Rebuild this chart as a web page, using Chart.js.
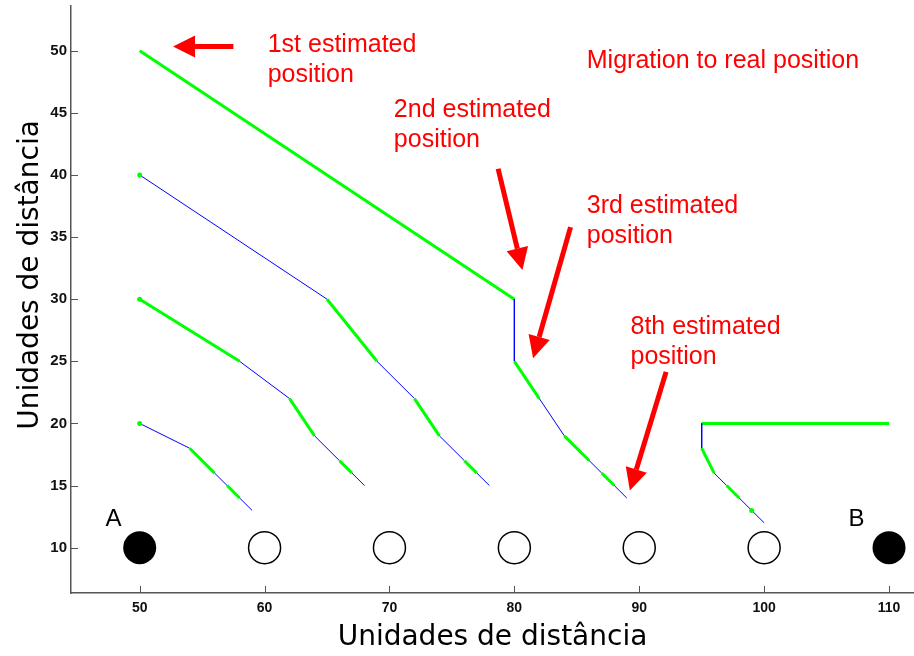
<!DOCTYPE html>
<html>
<head>
<meta charset="utf-8">
<script src="https://cdn.jsdelivr.net/npm/chart.js@4"></script>
<style>
  html, body { margin: 0; padding: 0; background: #fff; }
  #wrap { width: 914px; height: 656px; }
</style>
</head>
<body>
<div id="wrap"><canvas id="migChart" width="914" height="656"></canvas></div>
<script>
// ticks
const xTicks = [50, 60, 70, 80, 90, 100, 110];
const yTicks = [10, 15, 20, 25, 30, 35, 40, 45, 50];

// estimated paths (repeated point = estimate that did not move)
const path1 = [[50,50],[80,30],[80,25],[82,22],[84,19],[86,17],[87,16],[88,15],[89,14]];
const path2 = [[50,40],[50,40],[65,30],[69,25],[72,22],[74,19],[76,17],[77,16],[78,15]];
const path3 = [[50,30],[58,25],[62,22],[64,19],[66,17],[67,16],[68,15]];
const path4 = [[50,20],[50,20],[54,18],[56,16],[57,15],[58,14],[59,13]];
const path5 = [[110,20],[95,20],[95,18],[96,16],[97,15],[98,14],[99,13],[99,13],[100,12]];
const stillDots = [[50,40],[50,30],[50,20],[99,13]];

// nodes on the ground line
const anchorNodes = [[50,10],[110,10]];
const anchorNames = ['A', 'B'];
const anchorLabelPos = [[47.9,12.3],[107.4,12.3]];
const relayNodes = [[60,10],[70,10],[80,10],[90,10],[100,10]];

// red notes (data coords of first baseline)
const noteTexts = [
    ['1st estimated', 'position'],
    ['Migration to real position'],
    ['2nd estimated', 'position'],
    ['3rd estimated', 'position'],
    ['8th estimated', 'position']
];
const noteAt = [[60.25,49.9],[85.8,48.6],[70.35,44.7],[85.8,36.9],[89.3,27.2]];
// arrows: [tailX, tailY, tipX, tipY]
const arrows = [
    [57.5,50.33,52.67,50.33],
    [78.7,40.5,80.65,32.35],
    [84.5,35.8,81.5,25.25],
    [92.15,24.15,89.25,14.6]
];

const GREEN = '#00ff00', BLUE = '#0000ff', RED = '#ff0000';
const toXY = a => a.map(p => ({ x: p[0], y: p[1] }));

function pathSet(pts) {
    return {
        data: toXY(pts), showLine: true, pointRadius: 0, fill: false,
        borderColor: GREEN, borderWidth: 3, order: 2,
        segment: {
            borderColor: c => c.p0DataIndex % 2 === 0 ? GREEN : BLUE,
            borderWidth: c => c.p0DataIndex % 2 === 0 ? 3 : 1
        }
    };
}

const extras = {
    id: 'extras',
    afterDraw(chart) {
        const ctx = chart.ctx, xs = chart.scales.x, ys = chart.scales.y;
        const ca = chart.chartArea;
        ctx.save();
        // inner tick marks
        ctx.strokeStyle = '#555'; ctx.lineWidth = 1;
        xTicks.forEach(v => {
            const px = Math.round(xs.getPixelForValue(v)) + 0.5;
            ctx.beginPath(); ctx.moveTo(px, ca.bottom); ctx.lineTo(px, ca.bottom - 7); ctx.stroke();
        });
        yTicks.forEach(v => {
            const py = Math.round(ys.getPixelForValue(v)) + 0.5;
            ctx.beginPath(); ctx.moveTo(ca.left, py); ctx.lineTo(ca.left + 7, py); ctx.stroke();
        });

        // A / B
        ctx.fillStyle = '#000';
        ctx.font = '24px "Liberation Sans", Arial, sans-serif';
        ctx.textAlign = 'center'; ctx.textBaseline = 'middle';
        anchorNames.forEach((n, i) => {
            ctx.fillText(n, xs.getPixelForValue(anchorLabelPos[i][0]), ys.getPixelForValue(anchorLabelPos[i][1]));
        });

        // red notes
        ctx.fillStyle = RED;
        ctx.font = '25px "Liberation Sans", Arial, sans-serif';
        ctx.textAlign = 'left'; ctx.textBaseline = 'alphabetic';
        noteTexts.forEach((lines, i) => {
            const px = xs.getPixelForValue(noteAt[i][0]), py = ys.getPixelForValue(noteAt[i][1]);
            lines.forEach((t, j) => ctx.fillText(t, px, py + j * 30));
        });

        // arrows
        arrows.forEach(a => {
            const x0 = xs.getPixelForValue(a[0]), y0 = ys.getPixelForValue(a[1]);
            const x1 = xs.getPixelForValue(a[2]), y1 = ys.getPixelForValue(a[3]);
            const ang = Math.atan2(y1 - y0, x1 - x0), head = 22, half = 11;
            const bx = x1 - head * Math.cos(ang), by = y1 - head * Math.sin(ang);
            ctx.strokeStyle = RED; ctx.lineWidth = 5; ctx.lineCap = 'butt';
            ctx.beginPath(); ctx.moveTo(x0, y0); ctx.lineTo(bx, by); ctx.stroke();
            ctx.beginPath();
            ctx.moveTo(x1, y1);
            ctx.lineTo(bx + half * Math.sin(ang), by - half * Math.cos(ang));
            ctx.lineTo(bx - half * Math.sin(ang), by + half * Math.cos(ang));
            ctx.closePath(); ctx.fill();
        });

        // axis titles
        ctx.fillStyle = '#000';
        ctx.font = '28px "DejaVu Sans", sans-serif';
        ctx.textAlign = 'center'; ctx.textBaseline = 'alphabetic';
        ctx.fillText('Unidades de distância', (ca.left + ca.right) / 2, 645);
        ctx.translate(38, 275); ctx.rotate(-Math.PI / 2);
        ctx.fillText('Unidades de distância', 0, 0);
        ctx.restore();
    }
};

new Chart(document.getElementById('migChart'), {
    type: 'scatter',
    data: {
        datasets: [
            pathSet(path1), pathSet(path2), pathSet(path3), pathSet(path4), pathSet(path5),
            { data: toXY(stillDots), pointRadius: 2.5, pointBackgroundColor: GREEN, pointBorderWidth: 0, order: 1 },
            { data: toXY(relayNodes), pointRadius: 16, pointBackgroundColor: '#fff', pointBorderColor: '#000', pointBorderWidth: 1.5, order: 3 },
            { data: toXY(anchorNodes), pointRadius: 16.5, pointBackgroundColor: '#000', pointBorderColor: '#000', pointBorderWidth: 0, order: 3 }
        ]
    },
    options: {
        responsive: false,
        animation: false,
        layout: { autoPadding: false, padding: { top: 6, right: 0, left: 0, bottom: 0 } },
        plugins: { legend: { display: false }, tooltip: { enabled: false } },
        scales: {
            x: {
                type: 'linear', min: 44.5, max: 112,
                afterBuildTicks: s => { s.ticks = xTicks.map(v => ({ value: v })); },
                afterFit: s => { s.height = 63; s.paddingLeft = 0; s.paddingRight = 0; },
                grid: { drawOnChartArea: false, drawTicks: false },
                border: { color: '#555', width: 1.5 },
                ticks: { padding: 7, color: '#111', font: { family: '"Liberation Sans", Arial, sans-serif', size: 14, weight: 'bold' } }
            },
            y: {
                type: 'linear', min: 6.35, max: 53.6,
                afterBuildTicks: s => { s.ticks = yTicks.map(v => ({ value: v })); },
                afterFit: s => { s.width = 71; s.paddingTop = 0; s.paddingBottom = 0; },
                grid: { drawOnChartArea: false, drawTicks: false },
                border: { color: '#555', width: 1.5 },
                ticks: { padding: 4, color: '#111', font: { family: '"Liberation Sans", Arial, sans-serif', size: 15, weight: 'bold' } }
            }
        }
    },
    plugins: [extras]
});
</script>
</body>
</html>
